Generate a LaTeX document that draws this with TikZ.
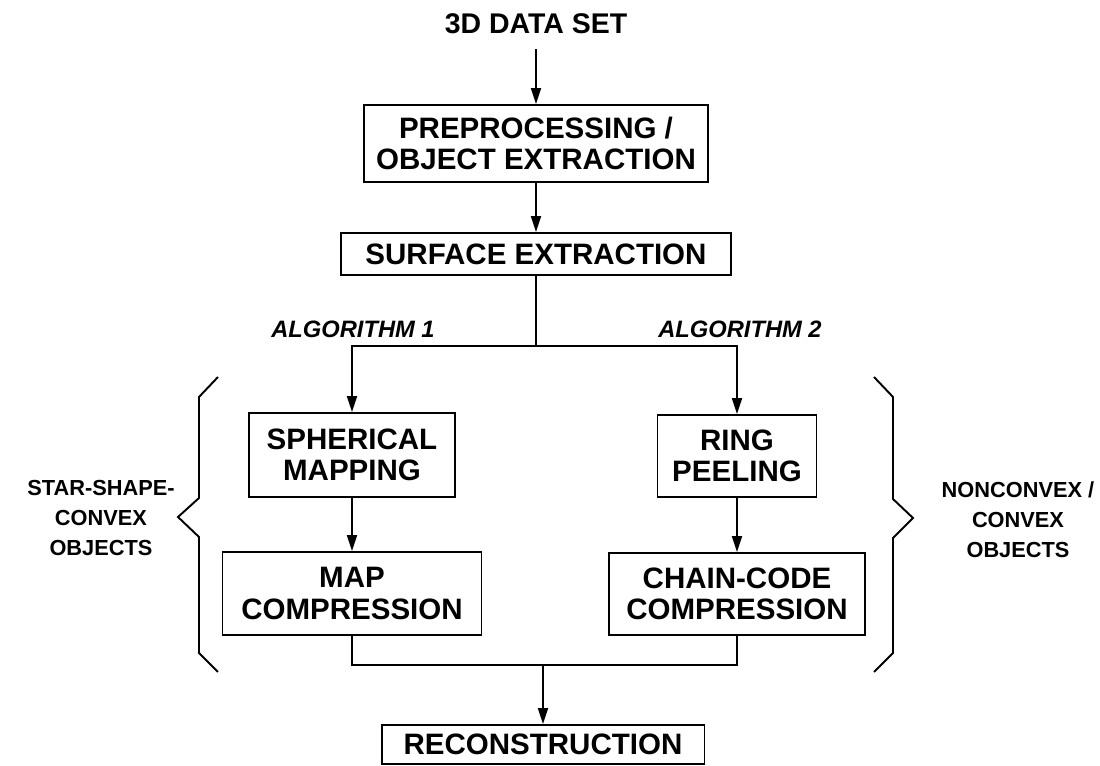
\documentclass[tikz,border=0pt]{standalone}
\usepackage{fontspec}
\setmainfont{Liberation Sans}
\usetikzlibrary{arrows.meta}
\tikzset{
  box/.style={draw, line width=1.1pt, align=center, inner sep=0pt,
    font=\bfseries\fontsize{16.8}{17.8}\selectfont},
  ttl/.style={inner sep=0pt, font=\bfseries\fontsize{16.2}{17.1}\selectfont},
  alg/.style={inner sep=0pt, font=\bfseries\itshape\fontsize{13.5}{16}\selectfont},
  side/.style={align=center, inner sep=0pt, font=\bfseries\fontsize{12.4}{17.1}\selectfont},
  ln/.style={line width=1.1pt},
  arr/.style={line width=1.1pt, -{Triangle[length=0.32cm,width=0.2cm]}},
}
\begin{document}
\begin{tikzpicture}[x=0.02cm,y=-0.02cm]
    \useasboundingbox (0,0) rectangle (1100,766);
    % main chain
    \node[ttl, minimum height=1cm] (title) at (536,24) {3D DATA SET};
    \node[box, minimum width=6.88cm, minimum height=1.54cm] (prep) at (536,143.5) {PREPROCESSING /\\OBJECT EXTRACTION};
    \node[box, minimum width=7.8cm, minimum height=0.84cm] (surf) at (536,254) {SURFACE EXTRACTION};
    \node[box, minimum width=4.12cm, minimum height=1.68cm] (sph) at (352,455) {SPHERICAL\\MAPPING};
    \node[box, minimum width=3.18cm, minimum height=1.64cm] (ring) at (737,456) {RING\\PEELING};
    \node[box, minimum width=5.18cm, minimum height=1.66cm] (mapc) at (352,593.5) {MAP\\COMPRESSION};
    \node[box, minimum width=5.12cm, minimum height=1.64cm] (chain) at (737,594) {CHAIN-CODE\\COMPRESSION};
    \node[box, minimum width=6.46cm, minimum height=0.78cm] (recon) at (543,744.5) {RECONSTRUCTION};
    \node[alg] (alg1) at (353,329) {ALGORITHM 1};
    \node[alg] (alg2) at (740,329) {ALGORITHM 2};
    \node[side] (starobj) at (101,518) {STAR-SHAPE-\\CONVEX\\OBJECTS};
    \node[side] (nonobj) at (1018,520) {NONCONVEX /\\CONVEX\\OBJECTS};
    \coordinate (split) at (536,346);
    \coordinate (join) at (543,665);
    % connectors
    \draw[arr] (title) -- (prep);
    \draw[arr] (prep) -- (surf);
    \draw[ln] (surf) -- (split);
    \draw[arr] (split) -| (sph);
    \draw[arr] (split) -| (ring);
    \draw[arr] (sph) -- (mapc);
    \draw[arr] (ring) -- (chain);
    \draw[ln] (mapc) |- (join) -| (chain);
    \draw[arr] (join) -- (recon);
    % braces
    \draw[ln, line join=miter] (218,377) -- (199,397) -- (199,498) -- (178,517)
        -- (199,537) -- (199,653) -- (218,672);
    \draw[ln, line join=miter] (874,377) -- (893,397) -- (893,499) -- (913,518)
        -- (893,538) -- (893,653) -- (874,672);
\end{tikzpicture}
\end{document}
